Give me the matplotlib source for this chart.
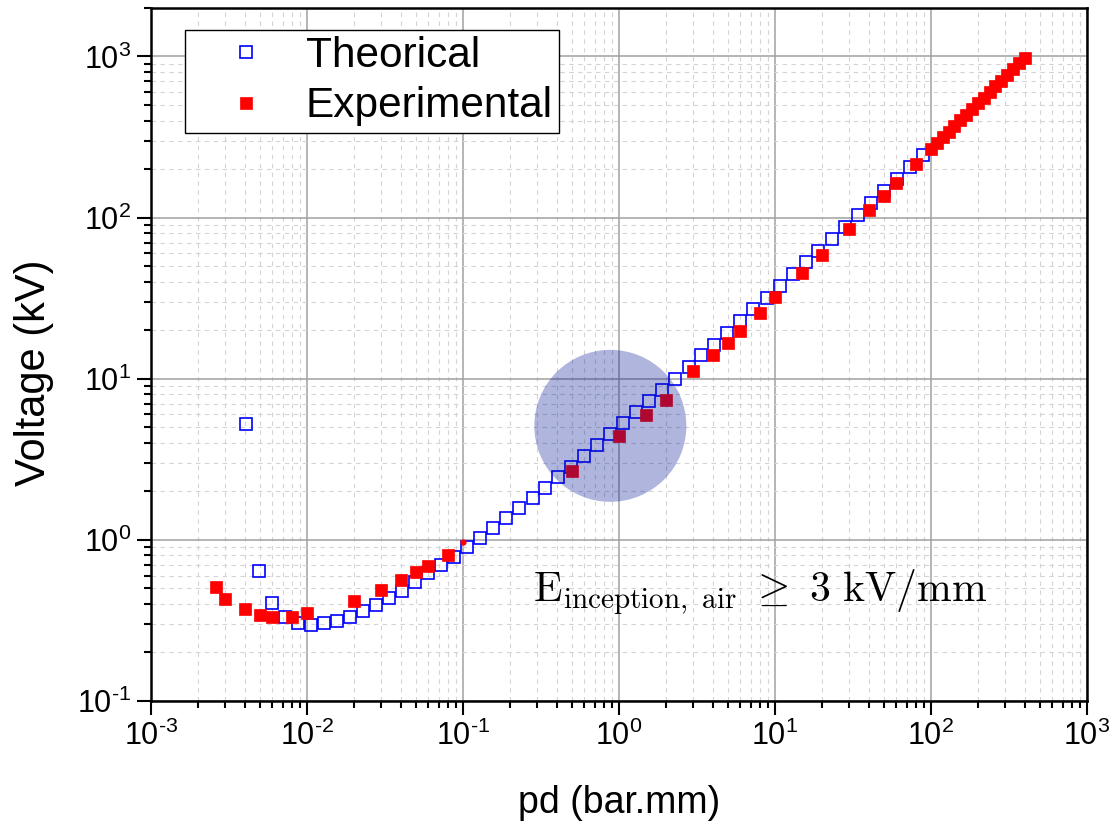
import matplotlib
matplotlib.use("Agg")
import matplotlib.pyplot as plt
from matplotlib.ticker import LogLocator, FixedLocator, FixedFormatter, NullFormatter

# ---------------- data ----------------
theo_pd = [0.00407, 0.00493, 0.00598, 0.00724, 0.00878, 0.01064, 0.01288, 0.01562,
           0.0189, 0.0229, 0.0278, 0.0337, 0.0408, 0.0494, 0.0599, 0.0726, 0.0879,
           0.1066, 0.129, 0.156, 0.190, 0.230, 0.279, 0.337, 0.409, 0.495, 0.600,
           0.728, 0.881, 1.067, 1.294, 1.567, 1.900, 2.301, 2.79, 3.38, 4.09, 4.96,
           6.01, 7.28, 8.83, 10.7, 12.97, 15.7, 19.0, 23.1, 27.9, 33.9, 41.0, 49.7,
           60.3, 73.0, 88.5]
theo_v = [5.25, 0.64, 0.408, 0.334, 0.306, 0.296, 0.304, 0.315, 0.334, 0.362, 0.394,
          0.434, 0.484, 0.546, 0.621, 0.700, 0.787, 0.901, 1.03, 1.18, 1.36, 1.57,
          1.82, 2.10, 2.44, 2.85, 3.32, 3.87, 4.54, 5.31, 6.21, 7.23, 8.55, 10.0,
          11.8, 14.0, 16.3, 19.3, 22.9, 27.2, 31.9, 37.4, 44.7, 52.8, 62.4, 73.7,
          87.5, 104, 123, 147, 174, 206, 246]

exp_pd = [0.0026, 0.003, 0.004, 0.005, 0.006, 0.008, 0.01, 0.02, 0.03, 0.04, 0.05,
          0.06, 0.08, 0.5, 1.0, 1.5, 2.0, 3.0, 4.0, 5.0, 6.0, 8.0, 10, 15, 20, 30,
          40, 50, 60, 80, 100, 109, 119, 130, 141, 154, 168, 183, 200, 218, 238,
          259, 283, 308, 336, 367, 400]
exp_v = [0.508, 0.430, 0.372, 0.342, 0.333, 0.331, 0.353, 0.42, 0.489, 0.565, 0.635,
         0.69, 0.807, 2.66, 4.44, 5.92, 7.37, 11.1, 14.0, 16.6, 19.7, 25.7, 32.0,
         45.3, 58.9, 85.5, 112, 137, 163, 214, 267, 290, 315, 342, 369, 401, 435,
         472, 512, 555, 602, 652, 708, 768, 834, 905, 980]

ref_pd = [0.1]
ref_v = [0.97]

highlight_pd = [0.88]
highlight_v = [5.1]

x_ticks = [1e-3, 1e-2, 1e-1, 1e0, 1e1, 1e2, 1e3]
x_labels = ["$\\mathregular{10^{\u20103}}$", "$\\mathregular{10^{\u20102}}$",
            "$\\mathregular{10^{\u20101}}$", r"$\mathregular{10^{0}}$",
            r"$\mathregular{10^{1}}$", r"$\mathregular{10^{2}}$", r"$\mathregular{10^{3}}$"]
y_ticks = [1e-1, 1e0, 1e1, 1e2, 1e3]
y_labels = ["$\\mathregular{10^{\u20101}}$", r"$\mathregular{10^{0}}$",
            r"$\mathregular{10^{1}}$", r"$\mathregular{10^{2}}$", r"$\mathregular{10^{3}}$"]

# ---------------- style ----------------
plt.rcParams["font.family"] = ["Liberation Sans", "DejaVu Sans"]
plt.rcParams["mathtext.fontset"] = "custom"
plt.rcParams["mathtext.rm"] = "Liberation Sans"
plt.rcParams["mathtext.it"] = "Liberation Sans:italic"
plt.rcParams["mathtext.bf"] = "Liberation Sans:bold"

fig = plt.figure(figsize=(11.16, 8.21), dpi=100)
ax = fig.add_axes([0.1353, 0.1462, 0.8387, 0.8441])

ax.set_xscale("log")
ax.set_yscale("log")
ax.set_xlim(1e-3, 1e3)
ax.set_ylim(0.1, 2000)

ax.plot(theo_pd, theo_v, linestyle="none", marker="s", markersize=9.2,
        markerfacecolor="none", markeredgecolor="#0000ff", markeredgewidth=1.2,
        label="Theorical", zorder=3)
ax.plot(exp_pd, exp_v, linestyle="none", marker="s", markersize=9.2,
        markerfacecolor="#ff0000", markeredgecolor="#ff0000", markeredgewidth=0.5,
        label="Experimental", zorder=4)
ax.plot(ref_pd, ref_v, linestyle="none", marker="o", markersize=3.5,
        color="#ff0000", zorder=4)

ax.scatter(highlight_pd, highlight_v, s=11975, color=(6/255, 25/255, 151/255),
           alpha=0.32, edgecolors="none", zorder=5)

# ticks
ax.xaxis.set_major_locator(FixedLocator(x_ticks))
ax.xaxis.set_major_formatter(FixedFormatter(x_labels))
ax.yaxis.set_major_locator(FixedLocator(y_ticks))
ax.yaxis.set_major_formatter(FixedFormatter(y_labels))
ax.xaxis.set_minor_locator(LogLocator(base=10, subs=range(2, 10), numticks=20))
ax.yaxis.set_minor_locator(LogLocator(base=10, subs=range(2, 10), numticks=20))
ax.xaxis.set_minor_formatter(NullFormatter())
ax.yaxis.set_minor_formatter(NullFormatter())

ax.tick_params(which="major", direction="out", length=10, width=1.5,
               labelsize=22, pad=4, top=False, right=False)
ax.tick_params(which="minor", direction="out", length=5, width=1.5,
               top=False, right=False)

ax.grid(True, which="major", color="#a0a0a0", linewidth=1.1, linestyle="-", zorder=0)
ax.grid(True, which="minor", color="#d4d4d4", linewidth=0.8, linestyle=(0, (4, 4)), zorder=0)
ax.set_axisbelow(True)

for sp in ax.spines.values():
    sp.set_linewidth(1.8)
    sp.set_color("black")

ax.set_xlabel("pd (bar.mm)", fontsize=27, labelpad=24)
ax.set_ylabel("Voltage (kV)", fontsize=30)
ax.yaxis.set_label_coords(-0.104, 0.473)

ax.text(0.279, 0.42, r"$\mathrm{E}_{\mathrm{inception,\ air}}\ \geq\ 3\ \mathrm{kV/mm}$",
        fontsize=30, math_fontfamily="cm", va="baseline", ha="left", zorder=6)

leg = ax.legend(loc="upper left", bbox_to_anchor=(0.0363, 0.968), borderaxespad=0,
                fontsize=30.5, frameon=True, fancybox=False, framealpha=1,
                edgecolor="black", handlelength=2.59, handletextpad=0.12,
                borderpad=0.145, labelspacing=0.24, markerscale=1.0)
leg.get_frame().set_linewidth(1.0)

fig.savefig("out.png", dpi=100)
